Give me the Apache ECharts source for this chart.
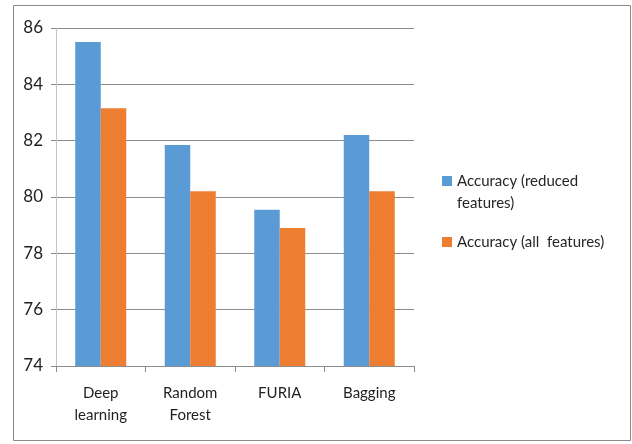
<!DOCTYPE html>
<html>
<head>
<meta charset="utf-8">
<script src="https://cdn.jsdelivr.net/npm/echarts@6/dist/echarts.min.js"></script>
<style>
  html, body { margin: 0; padding: 0; background: #fff; }
  #chart { width: 632px; height: 444px; }
</style>
</head>
<body>
<div id="chart"></div>
<script>
// Classifier accuracy, reduced feature set vs. all features
const categories = ['Deep\nlearning', 'Random\nForest', 'FURIA', 'Bagging'];
const seriesNames = ['Accuracy (reduced features)', 'Accuracy (all  features)'];
const accuracyReduced = [85.5, 81.85, 79.55, 82.2];
const accuracyAll = [83.15, 80.2, 78.9, 80.2];
const yTicks = { min: 74, max: 86, interval: 2 };

const chart = echarts.init(document.getElementById('chart'));

const option = {
  backgroundColor: '#ffffff',
  animation: false,
  textStyle: { fontFamily: 'Lato, "Noto Sans", sans-serif' },
  graphic: [{
    type: 'rect',
    shape: { x: 13.5, y: 5.5, width: 617, height: 435 },
    style: { fill: 'none', stroke: '#8a8a8a', lineWidth: 1 },
    silent: true
  }],
  grid: { left: 56, top: 28, width: 358, height: 338 },
  legend: {
    orient: 'vertical',
    left: 442,
    top: 148,
    padding: 0,
    itemWidth: 10,
    itemHeight: 10,
    itemGap: 17,
    icon: 'rect',
    textStyle: { fontSize: 15, color: '#262626', lineHeight: 22 },
    // the wrapped name keeps its first line level with the swatch:
    // an empty leading line balances the second line around the swatch
    formatter: function (name) {
      return name === seriesNames[0] ? ' \nAccuracy (reduced\nfeatures)' : name;
    },
    data: seriesNames
  },
  xAxis: {
    type: 'category',
    data: categories,
    axisLine: { lineStyle: { color: '#8c8c8c', width: 1 } },
    axisTick: { show: true, length: 6, lineStyle: { color: '#8c8c8c' } },
    axisLabel: {
      fontSize: 15,
      color: '#1f1f1f',
      lineHeight: 22,
      margin: 16,
      verticalAlign: 'top'
    }
  },
  yAxis: {
    type: 'value',
    min: yTicks.min,
    max: yTicks.max,
    interval: yTicks.interval,
    axisLine: { show: true, lineStyle: { color: '#c4c4c4', width: 1 } },
    axisTick: { show: true, length: 5, lineStyle: { color: '#8c8c8c' } },
    axisLabel: { fontSize: 17, color: '#1f1f1f', margin: 13 },
    splitLine: { lineStyle: { color: '#8c8c8c', width: 1 } }
  },
  series: [
    {
      name: seriesNames[0],
      type: 'bar',
      data: accuracyReduced,
      barGap: '0%',
      barCategoryGap: '43%',
      itemStyle: { color: '#5b9bd5' }
    },
    {
      name: seriesNames[1],
      type: 'bar',
      data: accuracyAll,
      itemStyle: { color: '#ed7d31' }
    }
  ]
};

chart.setOption(option);
</script>
</body>
</html>
